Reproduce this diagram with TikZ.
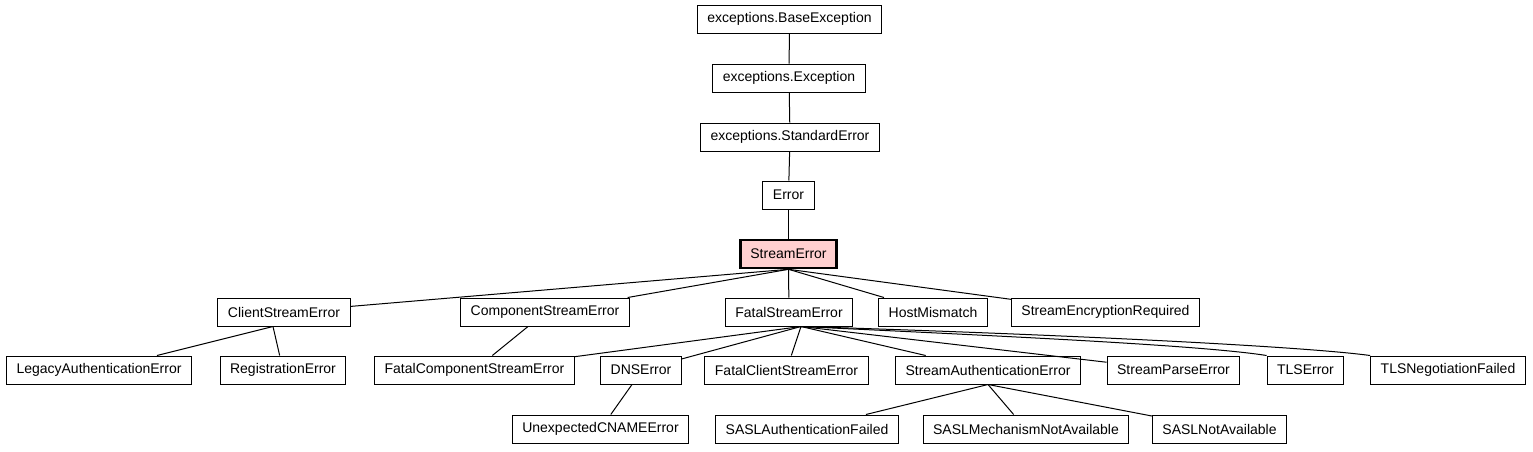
\documentclass[tikz,border=0pt]{standalone}
\usepackage{fontspec}
\setmainfont{Liberation Sans}
\usepackage{xcolor}
\usepackage{tikz}
\usetikzlibrary{positioning, calc}
\definecolor{hlpink}{RGB}{255,208,208}

\begin{document}
\begin{tikzpicture}[x=1pt, y=-1pt, line width=1pt,
    every node/.style={font=\fontsize{14}{16}\selectfont},
    cls/.style={draw, fill=white, inner xsep=10pt, inner ysep=0pt, minimum height=28pt},
    focus/.style={cls, fill=hlpink, line width=2.6pt}]
      \useasboundingbox (0,0) rectangle (1533,451);
      % Base chain
      \node[cls] (base) at (789.5,19) {exceptions.BaseException};
      \node[cls] (exc) at (789,78) {exceptions.Exception};
      \node[cls] (std) at (790,137) {exceptions.StandardError};
      \node[cls] (err) at (788.5,195) {Error};
      \node[focus] (stream) at (788.5,254) {StreamError};
      % Direct subclasses
      \node[cls] (client) at (284,312) {ClientStreamError};
      \node[cls] (component) at (545,312) {ComponentStreamError};
      \node[cls] (fatal) at (789,312) {FatalStreamError};
      \node[cls] (host) at (933,312) {HostMismatch};
      \node[cls] (encrypt) at (1105.5,312) {StreamEncryptionRequired};
      % Second level
      \node[cls] (legacy) at (99,370) {LegacyAuthenticationError};
      \node[cls] (regist) at (283,370) {RegistrationError};
      \node[cls] (fatalcomp) at (474.5,370) {FatalComponentStreamError};
      \node[cls] (dns) at (641,370) {DNSError};
      \node[cls] (fatalclient) at (786.5,370) {FatalClientStreamError};
      \node[cls] (auth) at (988,370) {StreamAuthenticationError};
      \node[cls] (parse) at (1173.5,370) {StreamParseError};
      \node[cls] (tls) at (1305.5,370) {TLSError};
      \node[cls] (tlsneg) at (1448,370) {TLSNegotiationFailed};
      % Third level
      \node[cls] (cname) at (600.5,429) {UnexpectedCNAMEError};
      \node[cls] (saslauth) at (807,429) {SASLAuthenticationFailed};
      \node[cls] (saslmech) at (1026,429) {SASLMechanismNotAvailable};
      \node[cls] (saslnot) at (1219.5,429) {SASLNotAvailable};

      % Tail points
      \coordinate (clientT) at ([xshift=-11pt]client.south);
      \coordinate (componentT) at ([xshift=-17pt]component.south);
      \coordinate (fatalT) at ([xshift=12pt]fatal.south);
      \coordinate (dnsT) at ([xshift=-9pt]dns.south);

      \draw (base) -- (exc);
      \draw (exc) -- (std);
      \draw (std) -- (err);
      \draw (err) -- (stream);
      \foreach \c in {client, component, fatal, host, encrypt}
        \draw (stream.south) -- (\c);
      \foreach \c in {legacy, regist}
        \draw (clientT) -- (\c);
      \draw (componentT) -- (fatalcomp);
      \foreach \c in {fatalcomp, dns, fatalclient, auth, parse}
        \draw (fatalT) -- (\c);
      \draw (fatalT) .. controls (1000,336) and (1200,345) .. (tls.north west);
      \draw (fatalT) .. controls (1050,334) and (1300,346) .. (tlsneg.north west);
      \draw (dnsT) -- (cname);
      \foreach \c in {saslauth, saslmech, saslnot}
        \draw (auth.south) -- (\c);
    \end{tikzpicture}
\end{document}
